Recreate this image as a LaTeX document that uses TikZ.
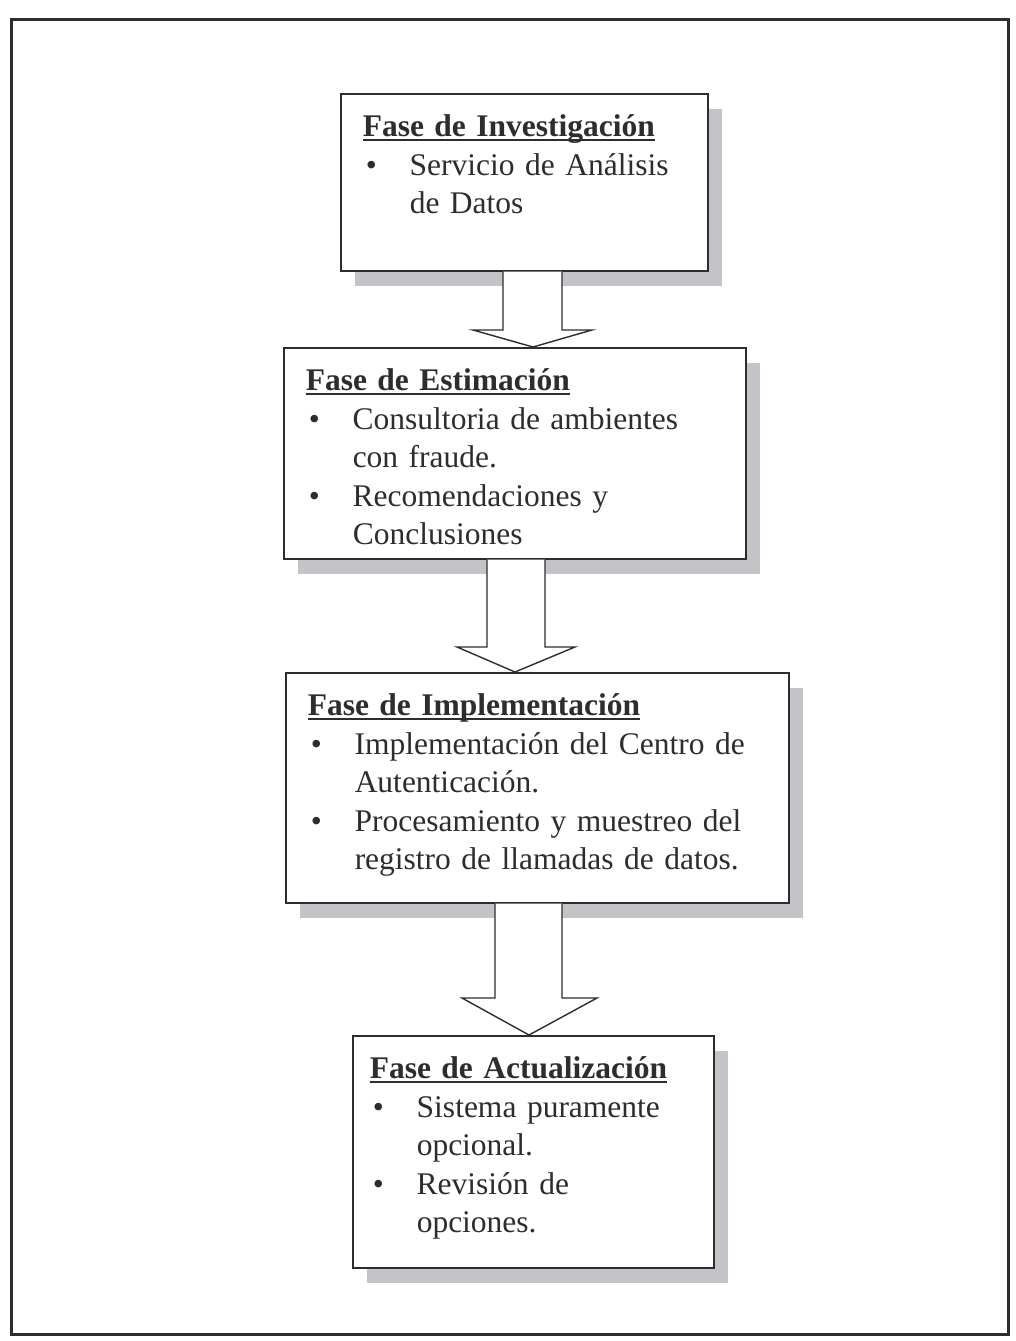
\documentclass[tikz,border=0pt]{standalone}
\usepackage{fontspec}
\setmainfont{Liberation Serif}
\usetikzlibrary{shadows, calc}
\definecolor{tinta}{RGB}{45, 45, 45}
\definecolor{sombra}{RGB}{196, 196, 200}
\newcommand\titulo[1]{\setbox0\hbox{\bfseries #1}\rlap{\rule[-4pt]{\wd0}{1.8pt}}\box0}
\newcommand\vineta{\hspace*{3pt}\textbullet}
\tikzset{
  faseBox/.style={
    draw=tinta,
    line width=1.5pt,
    fill=white,
    anchor=north west,
    inner xsep=22pt,
    inner ysep=16pt,
    text height=27pt,
    align=left,
    font=\fontsize{31.5}{38.5}\selectfont\color{tinta},
    drop shadow={shadow xshift=14pt, shadow yshift=-15pt, fill=sombra, draw=none, opacity=1}
  },
  flechaBloque/.style={
    draw=tinta,
    line width=1.4pt,
    fill=white,
    line join=miter
  },
  marco/.style={
    draw=tinta,
    line width=3pt
  }
}

\begin{document}
\begin{tikzpicture}[x=1pt, y=-1pt]
  \useasboundingbox (0,0) rectangle (1015,1341);
  \draw[marco] (11,19) rectangle (1008,1334);
  % Fases
  \node[faseBox, text width=323pt, text depth=118pt] (b1) at (340,93) {%
    \begin{tabular}[t]{@{}p{47pt}@{}l@{}}
      \multicolumn{2}{@{}l@{}}{\titulo{Fase de Investigación}}\\
      \vineta & Servicio de Análisis\\
              & de Datos
    \end{tabular}};
  \node[faseBox, text width=418pt, text depth=152pt] (b2) at (283,347) {%
    \begin{tabular}[t]{@{}p{47pt}@{}l@{}}
      \multicolumn{2}{@{}l@{}}{\titulo{Fase de Estimación}}\\
      \vineta & Consultoria de ambientes\\
              & con fraude.\\
      \vineta & Recomendaciones y\\
              & Conclusiones
    \end{tabular}};
  \node[faseBox, text width=459pt, text depth=171pt] (b3) at (285,672) {%
    \begin{tabular}[t]{@{}p{47pt}@{}l@{}}
      \multicolumn{2}{@{}l@{}}{\titulo{Fase de Implementación}}\\
      \vineta & Implementación del Centro de\\
              & Autenticación.\\
      \vineta & Procesamiento y muestreo del\\
              & registro de llamadas de datos.
    \end{tabular}};
  \node[faseBox, inner xsep=17pt, text width=327pt, text depth=173pt] (b4) at (352,1035) {%
    \begin{tabular}[t]{@{}p{47pt}@{}l@{}}
      \multicolumn{2}{@{}l@{}}{\titulo{Fase de Actualización}}\\
      \vineta & Sistema puramente\\
              & opcional.\\
      \vineta & Revisión de\\
              & opciones.
    \end{tabular}};
  % Flechas de bloque
  \draw[flechaBloque] (503,0 |- b1.south) -- (503,330) -- (473,330) -- (533,0 |- b2.north)
    -- (592,330) -- (562,330) -- (562,0 |- b1.south);
  \draw[flechaBloque] (487,0 |- b2.south) -- (487,647) -- (457,647) -- (515,0 |- b3.north)
    -- (575,647) -- (545,647) -- (545,0 |- b2.south);
  \draw[flechaBloque] (495,0 |- b3.south) -- (495,998) -- (462,998) -- (529,0 |- b4.north)
    -- (597,998) -- (562,998) -- (562,0 |- b3.south);
\end{tikzpicture}
\end{document}
